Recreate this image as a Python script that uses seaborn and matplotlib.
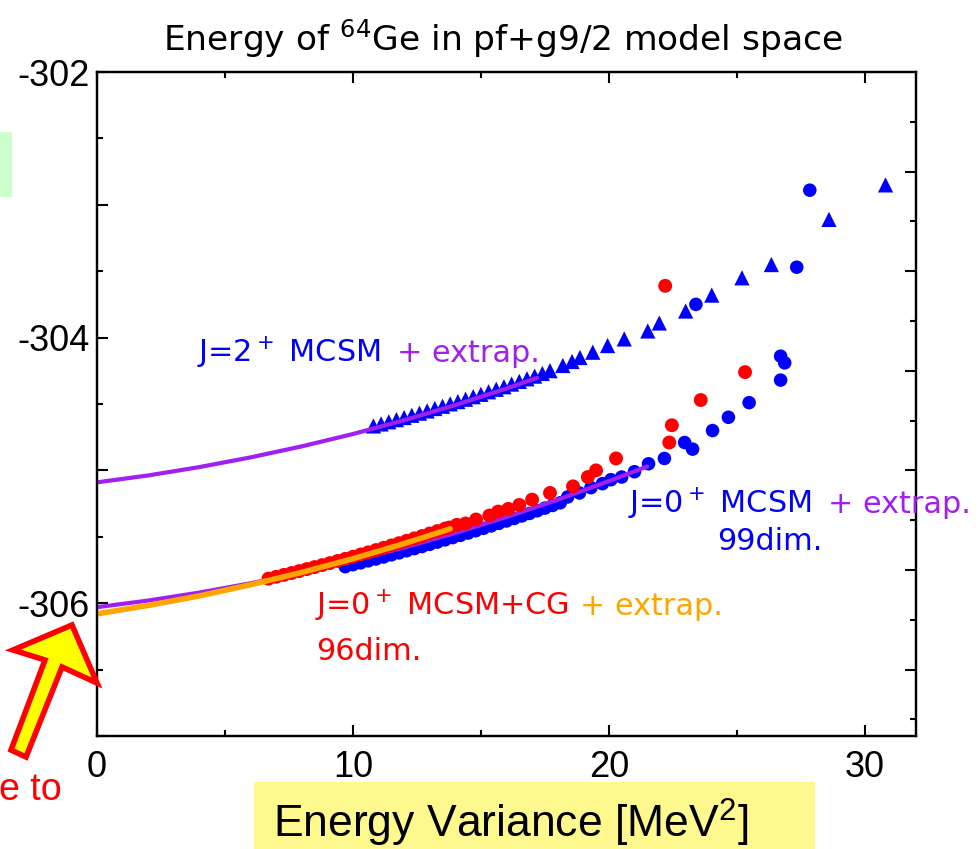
import matplotlib
matplotlib.use('Agg')
import matplotlib.pyplot as plt
import seaborn as sns
import pandas as pd
from matplotlib.patches import Rectangle, Polygon
from matplotlib.ticker import MultipleLocator, FixedLocator, FuncFormatter

# ---------------- data ----------------
# J=0+ MCSM (blue circles)
j0_x = [9.7, 10.0, 10.3, 10.6, 10.9, 11.2, 11.5, 11.8, 12.1, 12.4, 12.7, 13.0, 13.3, 13.6,
        13.9, 14.2, 14.5, 14.8, 15.1, 15.4, 15.7, 16.0, 16.3, 16.6, 16.9, 17.2, 17.5, 17.8,
        18.1, 18.39, 18.85, 19.3, 19.75, 20.08, 20.5, 21.0, 21.55, 22.17, 22.96, 23.27,
        24.05, 24.67, 25.48, 26.71, 26.87, 26.71, 23.4, 27.34, 27.85]
j0_y = [-305.725, -305.710, -305.696, -305.681, -305.667, -305.652, -305.636, -305.621,
        -305.605, -305.589, -305.573, -305.557, -305.540, -305.523, -305.506, -305.489,
        -305.472, -305.454, -305.436, -305.418, -305.399, -305.381, -305.362, -305.343,
        -305.324, -305.304, -305.284, -305.264, -305.244, -305.20, -305.17, -305.13,
        -305.10, -305.07, -305.05, -305.01, -304.95, -304.91, -304.79, -304.84, -304.70,
        -304.60, -304.49, -304.32, -304.19, -304.14, -303.75, -303.47, -302.89]

# J=2+ MCSM (blue triangles)
j2_x = [10.8, 11.1, 11.4, 11.7, 12.0, 12.3, 12.6, 12.9, 13.2, 13.5, 13.8, 14.1, 14.4, 14.7,
        15.0, 15.3, 15.6, 15.9, 16.2, 16.5, 16.8, 17.1, 17.4, 17.7, 18.2, 18.56, 18.87,
        19.37, 19.95, 20.6, 21.52, 21.97, 23.0, 24.02, 25.2, 26.35, 28.6, 30.81]
j2_y = [-304.665, -304.650, -304.634, -304.618, -304.602, -304.585, -304.569, -304.552,
        -304.534, -304.517, -304.499, -304.482, -304.464, -304.445, -304.427, -304.408,
        -304.389, -304.370, -304.350, -304.330, -304.310, -304.290, -304.270, -304.249,
        -304.21, -304.18, -304.15, -304.11, -304.06, -304.01, -303.95, -303.89, -303.80,
        -303.68, -303.55, -303.45, -303.11, -302.85]

# J=0+ MCSM+CG (red circles)
cg_x = [6.7, 7.0, 7.3, 7.6, 7.9, 8.2, 8.5, 8.8, 9.1, 9.4, 9.7, 10.0, 10.3, 10.6, 10.9, 11.2,
        11.5, 11.8, 12.1, 12.4, 12.7, 13.0, 13.3, 13.6, 13.77, 14.06, 14.4, 14.81, 15.33,
        15.67, 16.07, 16.5, 17.0, 17.7, 18.6, 19.18, 19.5, 20.28, 22.36, 22.46, 23.59,
        25.32, 22.2]
cg_y = [-305.815, -305.801, -305.787, -305.773, -305.758, -305.743, -305.728, -305.713,
        -305.698, -305.682, -305.666, -305.650, -305.633, -305.617, -305.600, -305.583,
        -305.565, -305.548, -305.530, -305.512, -305.494, -305.475, -305.457, -305.438,
        -305.43, -305.41, -305.40, -305.37, -305.34, -305.31, -305.29, -305.26, -305.22,
        -305.17, -305.12, -305.05, -305.00, -304.91, -304.79, -304.66, -304.47, -304.26,
        -303.61]

# extrapolation curves
ex2_x = [0, 2, 4, 6, 8, 10, 12, 14, 16, 17.2]
ex2_y = [-305.090, -305.038, -304.975, -304.902, -304.819, -304.726, -304.622, -304.508,
         -304.383, -304.303]
ex0_x = [0, 2, 4, 6, 8, 10, 12, 14, 16, 18, 20, 21.5]
ex0_y = [-306.030, -305.980, -305.920, -305.850, -305.770, -305.680, -305.581, -305.471,
         -305.351, -305.221, -305.081, -304.970]
excg_x = [0, 2, 4, 6, 8, 10, 12, 13.8]
excg_y = [-306.080, -306.017, -305.945, -305.861, -305.768, -305.665, -305.551, -305.440]

x_major = [0, 10, 20, 30]
y_labels = [-302, -304, -306]
right_major = [-306.5, -305.75, -305.0, -304.25, -303.5, -302.75]
right_minor = [-306.875, -306.125, -305.375, -304.625, -303.875, -303.125, -302.375]

BLUE = '#0000ff'
RED = '#ff0000'
PURPLE = '#a020f0'
ORANGE = '#ffa500'

# ---------------- figure ----------------
sns.set_theme(style='ticks')
plt.rcParams['font.family'] = ['Liberation Sans', 'DejaVu Sans']
plt.rcParams['text.color'] = 'black'
plt.rcParams['axes.edgecolor'] = 'black'
plt.rcParams['xtick.color'] = 'black'
plt.rcParams['ytick.color'] = 'black'
plt.rcParams['mathtext.fontset'] = 'custom'
plt.rcParams['mathtext.rm'] = 'Liberation Sans'
plt.rcParams['mathtext.it'] = 'Liberation Sans:italic'
plt.rcParams['mathtext.bf'] = 'Liberation Sans:bold'

W, H = 980, 849
fig = plt.figure(figsize=(W / 100, H / 100), dpi=100)
fig.patch.set_facecolor('white')

def fx(px):
    return px / W

def fy(py):
    return 1 - py / H

ax = fig.add_axes([fx(97), fy(736), fx(916) - fx(97), fy(72) - fy(736)])
ax.set_facecolor('white')

sns.scatterplot(x=j0_x, y=j0_y, ax=ax, color=BLUE, marker='o', s=95,
                edgecolor='none', linewidth=0, zorder=2)
sns.scatterplot(x=j2_x, y=j2_y, ax=ax, color=BLUE, marker='^', s=120,
                edgecolor='none', linewidth=0, zorder=2)
sns.lineplot(x=ex2_x, y=ex2_y, ax=ax, color=PURPLE, lw=3.0, estimator=None,
             sort=False, zorder=3)
sns.lineplot(x=ex0_x, y=ex0_y, ax=ax, color=PURPLE, lw=3.0, estimator=None,
             sort=False, zorder=3)
sns.scatterplot(x=cg_x, y=cg_y, ax=ax, color=RED, marker='o', s=100,
                edgecolor='none', linewidth=0, zorder=4)
sns.lineplot(x=excg_x, y=excg_y, ax=ax, color=ORANGE, lw=4.0, estimator=None,
             sort=False, zorder=5)

ax.set_xlim(0, 32)
ax.set_ylim(-307, -302)
ax.set_xlabel('')
ax.set_ylabel('')

ax.xaxis.set_major_locator(FixedLocator(x_major))
ax.xaxis.set_minor_locator(MultipleLocator(5))
ax.yaxis.set_major_locator(MultipleLocator(1))
ax.yaxis.set_minor_locator(MultipleLocator(0.5))
ax.yaxis.set_major_formatter(FuncFormatter(
    lambda v, p: f'{v:.0f}' if round(v) in y_labels else ''))
ax.xaxis.set_major_formatter(FuncFormatter(lambda v, p: f'{v:.0f}'))

ax.tick_params(which='both', direction='in', top=True, right=False, width=1.5,
               colors='black', labelsize=26)
ax.tick_params(which='major', length=8)
ax.tick_params(which='minor', length=4)
ax.tick_params(axis='x', pad=10)
ax.tick_params(axis='y', pad=5)
for sp in ax.spines.values():
    sp.set_linewidth(1.6)
    sp.set_color('black')
    sp.set_visible(True)

ax2 = ax.twinx()
ax2.set_ylim(-307, -302)
ax2.yaxis.set_major_locator(FixedLocator(right_major))
ax2.yaxis.set_minor_locator(FixedLocator(right_minor))
ax2.tick_params(which='both', direction='in', right=True, labelright=False, width=1.5,
                colors='black')
ax2.tick_params(which='major', length=8)
ax2.tick_params(which='minor', length=4)
for sp in ax2.spines.values():
    sp.set_linewidth(1.6)
    sp.set_color('black')

# title
fig.text(fx(503), fy(51), 'Energy of $^{64}$Ge in pf+g9/2 model space', ha='center',
         va='baseline', fontsize=24.8, color='black', family='DejaVu Sans',
         math_fontfamily='dejavusans')

# annotations
def atext(px, py, s, color):
    fig.text(fx(px), fy(py), s, color=color, fontsize=21.8, family='DejaVu Sans',
             math_fontfamily='dejavusans', ha='left', va='baseline')

atext(197, 362, 'J=2$^+$ MCSM', BLUE)
atext(397, 362, '+ extrap.', PURPLE)
atext(628, 513, 'J=0$^+$ MCSM', BLUE)
atext(828, 513, '+ extrap.', PURPLE)
atext(717, 550, '99dim.', BLUE)
atext(315, 615, 'J=0$^+$ MCSM+CG', RED)
atext(580, 615, '+ extrap.', ORANGE)
atext(316, 660, '96dim.', RED)

# x label with yellow box
fig.patches.append(Rectangle((fx(254), 0), fx(815) - fx(254), fy(782), transform=fig.transFigure,
                             facecolor='#fdf98e', edgecolor='none', zorder=0))
fig.text(fx(273), fy(838), 'Energy Variance [MeV$^2$]', fontsize=32, ha='left',
         va='baseline', color='black')

# green box at left
fig.patches.append(Rectangle((0, fy(197)), fx(12), fy(132) - fy(197), transform=fig.transFigure,
                             facecolor='#ccffcc', edgecolor='none', zorder=0))

# arrow
arrow_px = [(72, 625), (97, 683), (62, 667), (26, 757), (11, 750), (45, 660), (13, 650)]
fig.patches.append(Polygon([(fx(a), fy(b)) for a, b in arrow_px], closed=True,
                           transform=fig.transFigure, facecolor='#ffff00',
                           edgecolor='#ff0000', linewidth=4, joinstyle='miter', zorder=5))
fig.text(fx(62), fy(800), 'e to', color=RED, fontsize=27, ha='right', va='baseline')

fig.savefig('out.png', dpi=100)
